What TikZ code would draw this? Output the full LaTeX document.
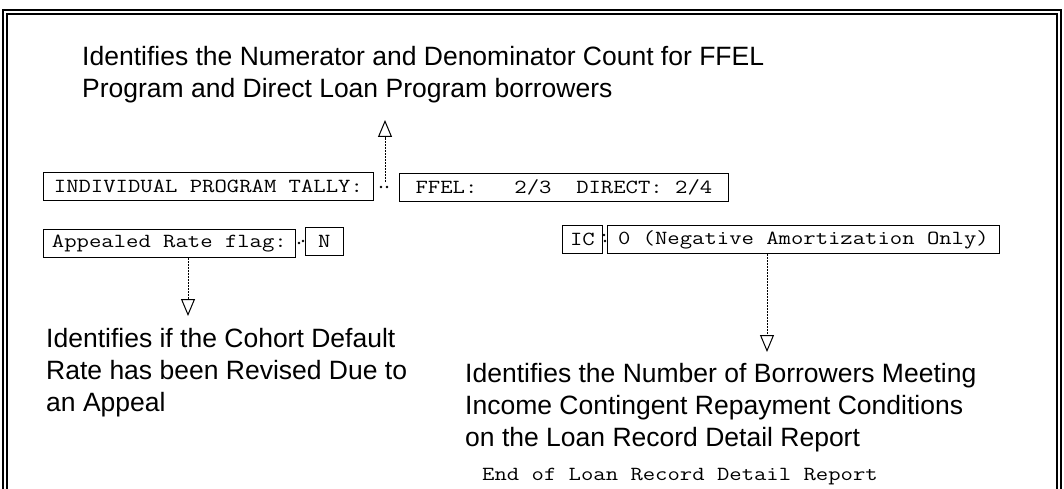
\documentclass[tikz,border=0pt]{standalone}
\usepackage{fontspec}
\setmainfont{Liberation Sans}
\usepackage{graphicx}
\usetikzlibrary{arrows.meta}
\newcommand\mtext[1]{\scalebox{1.2}[1]{\fontsize{20}{24}\selectfont\ttfamily #1}}
\begin{document}
\begin{tikzpicture}[x=1pt,y=-1pt,
  frame/.style={line width=1.1pt},
  mbox/.style={draw, line width=0.8pt, minimum height=28pt, inner sep=0pt, anchor=north west},
  note/.style={align=left, anchor=north west, inner sep=0pt, font=\fontsize{26.5}{32}\selectfont},
  arr/.style={line width=0.8pt, dash pattern=on 2pt off 1pt, -{Triangle[open,length=17pt,width=14pt,line width=1pt]}},
  dotc/.style={circle, fill=black, inner sep=0pt, minimum size=2.6pt}
]
\useasboundingbox (0,0) rectangle (1064,489);
\fill[white] (0,0) rectangle (1064,489);
% frame
\draw[frame] (3,489) -- (3,10) -- (1061,10) -- (1061,489);
\draw[frame] (7,489) -- (7,14) -- (1057,14) -- (1057,489);
% notes
\node[note] (top) at (82,46.5) {Identifies the Numerator and Denominator Count for FFEL\\Program and Direct Loan Program borrowers};
\node[note] (left) at (46,328.5) {Identifies if the Cohort Default\\Rate has been Revised Due to\\an Appeal};
\node[note] (right) at (465,363.5) {Identifies the Number of Borrowers Meeting\\Income Contingent Repayment Conditions\\on the Loan Record Detail Report};
% boxes
\node[mbox, minimum width=330pt] (tally) at (43,172) {\mtext{INDIVIDUAL PROGRAM TALLY:}};
\node[mbox, minimum width=329pt] (counts) at (399,173) {\mtext{FFEL:\ \ \ 2/3\ \ DIRECT:\ 2/4}};
\node[mbox, minimum width=252pt] (flag) at (43,229) {\mtext{Appealed Rate flag:}};
\node[mbox, minimum width=38pt] (flagv) at (305,227) {\mtext{N}};
\node[mbox, minimum width=40pt] (ic) at (562,225) {\mtext{IC}};
\node[mbox, minimum width=392pt] (icv) at (607,225) {\mtext{0 (Negative Amortization Only)}};
\node[anchor=base west, inner sep=0pt] (end) at (482,480) {\mtext{End of Loan Record Detail Report}};
% leader dots
\node[dotc] (d1) at (381,187) {};
\node[dotc] (d2) at (387,187) {};
\node[dotc] (d3) at (299,243) {};
\node[dotc] (d4) at (303,241) {};
\node[dotc] (d5) at (604,235) {};
\node[dotc] (d6) at (605,241) {};
% arrows
\coordinate (upEnd) at (385,120);
\coordinate (upStart) at (385,182);
\coordinate (lEnd) at (188,316);
\coordinate (rEnd) at (767,352);
\draw[arr] (upStart) -- (upEnd);
\draw[arr] (flag.south -| lEnd) -- (lEnd);
\draw[arr] (icv.south -| rEnd) -- (rEnd);
\end{tikzpicture}
\end{document}
